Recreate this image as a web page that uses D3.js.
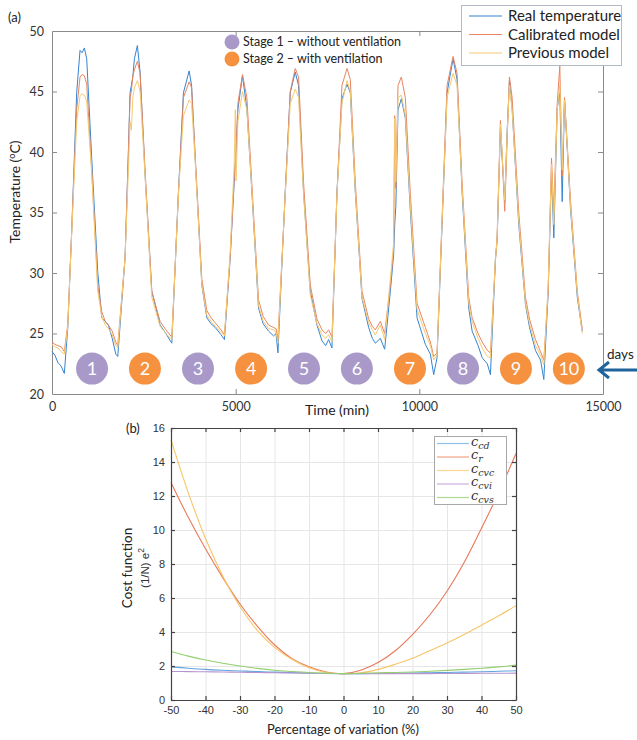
<!DOCTYPE html>
<meta charset="utf-8">
<style>
body { margin: 0; background: #fff; }
svg { display: block; }
.axis-a path, .axis-a line { stroke: #8a8a8a; }
.axis-a text { font: 12.5px Lato, sans-serif; fill: #333; }
.axis-b path, .axis-b line { stroke: #444; stroke-width: 1.2px; }
.axis-b text { font: 11px "Liberation Sans", Arial, sans-serif; fill: #333; }
.grid line { stroke: #e6e6e6; }
.grid path { display: none; }
</style>
<svg width="637" height="740"></svg>
<script src="https://d3js.org/d3.v7.min.js"></script>
<script>

// ---- panel (a) data: time (min) and temperatures (degC)
var timeMin = [0,80,160,250,336,430,536,672,763,820,881,945,1081,1245,1354,1450,1535,1640,1736,1790,
  1990,2080,2125,2160,2200,2243,2325,2398,2534,2716,2943,3100,3262,3442,3578,3733,3800,3897,4079,4215,
  4330,4442,4600,4695,4851,4960,4990,5010,5060,5186,5305,5442,5622,5750,5895,6031,6100,6150,6349,6486,
  6622,6712,6848,7031,7213,7350,7450,7530,7621,7758,7894,8031,8121,8257,8439,8620,8720,8802,8938,9056,
  9211,9300,9330,9360,9420,9510,9619,9756,9938,10164,10300,10391,10482,10619,10755,10918,11027,11164,11345,11437,
  11600,11710,11850,11936,12072,12117,12208,12325,12390,12453,12526,12707,12889,13000,13162,13300,13389,13508,13598,13661,
  13753,13824,13889,13952,14116,14300,14434];
var realTemp = [23.5,23.2,22.6,22.3,21.7,25.5,33.4,44.9,48.4,48.2,48.6,47.7,39.5,30.1,26.3,26.0,25.7,24.6,23.3,23.1,
  31.3,40.0,44.9,45.5,46.2,47.7,48.8,46.6,38.1,28.5,25.7,25.0,24.2,36.7,44.9,46.7,45.5,39.5,29.0,26.3,
  25.8,25.5,24.9,24.5,31.3,37.5,39.0,40.0,43.5,46.3,43.6,36.7,27.1,25.8,25.2,24.8,25.0,23.4,36.7,44.9,
  46.6,45.5,36.7,28.5,25.7,24.4,24.0,24.5,23.8,36.7,44.4,45.6,44.9,36.7,27.9,25.5,24.6,24.2,24.6,23.7,
  28.5,31.5,34.0,35.5,43.5,44.4,42.8,35.1,26.3,24.1,23.3,21.6,23.0,34.0,44.9,47.7,46.0,36.7,27.1,25.2,
  24.0,23.0,22.5,21.6,31.2,32.6,42.0,35.9,41.7,45.9,43.6,34.0,27.4,25.5,23.6,22.8,21.2,28.5,38.5,32.9,
  43.6,44.9,35.9,44.4,35.3,28.0,25.2];
var calibTemp = [24.3,24.1,24.0,23.9,23.5,25.8,33.5,43.5,46.2,46.4,46.3,45.6,38.5,29.0,26.8,26.0,25.7,25.2,24.3,24.0,
  31.3,40.0,44.5,45.0,46.3,46.8,47.5,46.5,38.5,28.5,26.0,25.3,24.7,36.5,44.5,45.8,45.3,39.8,29.5,26.9,
  26.3,25.9,25.3,24.9,31.3,37.8,39.2,40.2,44.0,46.4,44.5,37.3,27.8,26.4,25.7,25.5,25.4,24.5,36.5,45.0,
  46.9,46.2,37.5,29.0,26.2,25.3,25.0,25.3,24.7,36.5,45.5,46.9,46.0,37.5,28.5,26.2,25.6,25.3,26.0,25.0,
  29.0,32.0,43.0,37.0,45.5,46.2,44.5,36.5,27.5,25.5,24.3,23.1,23.4,34.5,45.5,47.9,46.5,37.5,28.0,26.3,
  25.0,24.3,23.6,23.4,31.0,33.0,42.6,35.1,41.0,46.2,44.5,35.0,28.0,26.2,24.5,23.5,22.8,28.5,39.5,35.0,
  44.0,47.1,38.0,44.5,36.0,28.5,25.4];
var prevTemp = [24.1,23.9,23.8,23.5,23.3,25.6,33.3,42.5,44.6,44.8,44.7,44.2,38.3,28.5,26.4,25.7,25.4,24.9,24.0,23.8,
  31.3,38.5,42.5,41.8,44.5,45.3,45.9,45.0,38.0,28.0,25.6,25.0,24.5,36.5,43.0,44.3,44.0,39.3,29.0,26.5,
  26.0,25.6,25.1,24.8,31.8,39.0,43.5,37.6,42.5,45.0,43.5,36.8,27.3,26.0,25.4,25.3,25.1,24.2,36.5,44.0,
  45.2,44.5,36.5,28.2,25.8,24.9,24.6,24.9,24.3,36.5,44.0,45.9,45.0,36.8,28.0,25.9,25.3,24.9,25.7,24.5,
  29.5,32.5,42.8,37.5,44.5,44.7,43.0,35.5,27.0,25.0,24.0,22.8,23.2,34.3,44.5,46.5,45.5,37.0,27.5,26.0,
  24.6,23.8,23.1,23.0,31.2,32.8,42.3,36.0,41.5,45.5,43.5,34.3,27.5,25.8,24.0,23.2,22.4,29.0,39.0,34.0,
  43.5,45.5,38.5,44.3,35.5,28.3,25.0];
var seriesNames = ["Real temperature", "Calibrated model", "Previous model"];

// day markers
var dayLabels = ["1","2","3","4","5","6","7","8","9","10"];
var dayTimes = [1090,2530,3975,5420,6860,8300,9745,11190,12630,14070];
var dayStage = [1,2,1,2,1,1,2,1,2,2];
var dayLevel = 22.1;
var stageNames = ["Stage 1 \u2013 without ventilation", "Stage 2 \u2013 with ventilation"];

// ---- panel (b) data: percentage of variation vs cost function
var pctVar = [-50,-45,-40,-35,-30,-25,-20,-15,-10,-5,0,5,10,15,20,25,30,35,40,45,50];
var costCd  = [1.95,1.87,1.8,1.75,1.71,1.67,1.64,1.61,1.58,1.56,1.55,1.55,1.56,1.57,1.58,1.6,1.62,1.64,1.66,1.69,1.72];
var costR   = [12.8,10.75,8.9,7.2,5.65,4.35,3.25,2.45,1.95,1.65,1.55,1.75,2.2,2.9,3.85,5.0,6.4,8.1,10.1,12.2,14.5];
var costCvc = [15.3,12.2,9.5,7.3,5.5,4.1,3.1,2.4,1.9,1.62,1.55,1.6,1.8,2.1,2.45,2.9,3.35,3.85,4.4,4.95,5.55];
var costCvi = [1.68,1.67,1.66,1.65,1.63,1.62,1.6,1.59,1.57,1.56,1.55,1.55,1.55,1.55,1.55,1.55,1.56,1.56,1.57,1.57,1.58];
var costCvs = [2.85,2.58,2.35,2.16,2.0,1.86,1.75,1.68,1.62,1.58,1.55,1.57,1.6,1.62,1.65,1.69,1.74,1.8,1.87,1.95,2.05];
var costSubs = ["cd", "r", "cvc", "cvi", "cvs"];

var svg = d3.select("svg");
var plain = function(d) { return String(d); };

// ================= panel (a)
var ma = {left: 52, right: 603, top: 31, bottom: 394};
var x = d3.scaleLinear().domain([0, 15000]).range([ma.left, ma.right]);
var y = d3.scaleLinear().domain([20, 50]).range([ma.bottom, ma.top]);
var colA = ["#3584d2", "#e98560", "#f6ca70"];

var ga = svg.append("g");

ga.append("g").attr("class", "axis-a")
    .attr("transform", "translate(0," + ma.bottom + ")")
    .call(d3.axisBottom(x).tickValues([0, 5000, 10000, 15000]).tickFormat(plain).tickSizeInner(-5).tickSizeOuter(0).tickPadding(8));
ga.append("g").attr("class", "axis-a")
    .attr("transform", "translate(0," + ma.top + ")")
    .call(d3.axisTop(x).tickValues([5000, 10000]).tickSizeInner(-5).tickSizeOuter(0).tickFormat(""));
ga.append("g").attr("class", "axis-a")
    .attr("transform", "translate(" + ma.left + ",0)")
    .call(d3.axisLeft(y).tickValues([20, 25, 30, 35, 40, 45, 50]).tickFormat(plain).tickSizeInner(-5).tickSizeOuter(0).tickPadding(8));
ga.append("g").attr("class", "axis-a")
    .attr("transform", "translate(" + ma.right + ",0)")
    .call(d3.axisRight(y).tickValues([25, 30, 35, 40, 45]).tickSizeInner(-5).tickSizeOuter(0).tickFormat(""));
ga.selectAll(".axis-a .tick line").filter(function(d) { return d == 20 || d == 50 || d == 0 || d == 15000; }).remove();

var lineA = d3.line()
    .x(function(d) { return x(d[0]); })
    .y(function(d) { return y(d[1]); });

[realTemp, calibTemp, prevTemp].forEach(function(vals, i) {
  ga.append("path")
      .datum(timeMin.map(function(t, k) { return [t, vals[k]]; }))
      .attr("fill", "none")
      .attr("stroke", colA[i])
      .attr("stroke-width", 1)
      .attr("stroke-linejoin", "round")
      .attr("d", lineA);
});

var stageCol = {1: "#a899c9", 2: "#f5913f"};
var days = ga.selectAll(".day").data(dayLabels).enter().append("g")
    .attr("transform", function(d, i) { return "translate(" + x(dayTimes[i]) + "," + y(dayLevel) + ")"; });
days.append("circle").attr("r", 16).attr("fill", function(d, i) { return stageCol[dayStage[i]]; });
days.append("text")
    .attr("text-anchor", "middle").attr("dy", "0.36em")
    .style("font", "18px Lato, sans-serif").attr("fill", "#fff")
    .text(function(d) { return d; });

// stage legend
stageNames.forEach(function(s, i) {
  ga.append("circle").attr("cx", 232).attr("cy", 42 + i * 17).attr("r", 7.5).attr("fill", stageCol[i + 1]);
  ga.append("text").attr("x", 243).attr("y", 42 + i * 17).attr("dy", "0.35em")
      .style("font", "12.5px Lato, sans-serif").attr("fill", "#222").text(s);
});

// series legend
ga.append("rect").attr("x", 461.5).attr("y", 5.5).attr("width", 160).attr("height", 60)
    .attr("fill", "#fff").attr("stroke", "#b4b9c6");
seriesNames.forEach(function(s, i) {
  var yy = 16 + i * 18.5;
  ga.append("line").attr("x1", 469).attr("x2", 502).attr("y1", yy).attr("y2", yy)
      .attr("stroke", colA[i]).attr("stroke-width", 1.2);
  ga.append("text").attr("x", 508).attr("y", yy).attr("dy", "0.35em")
      .style("font", "15px Lato, sans-serif").attr("fill", "#222").text(s);
});

ga.append("text").attr("x", 8).attr("y", 22).style("font", "13px Lato, sans-serif").attr("fill", "#222").text("(a)");
ga.append("text").attr("x", 337).attr("y", 415).attr("text-anchor", "middle")
    .style("font", "14px Lato, sans-serif").attr("fill", "#222").text("Time (min)");
var yl = ga.append("text").attr("transform", "translate(20,192) rotate(-90)").attr("text-anchor", "middle")
    .style("font", "14px Lato, sans-serif").attr("fill", "#222");
yl.append("tspan").text("Temperature (");
yl.append("tspan").attr("baseline-shift", "super").style("font-size", "9px").text("o");
yl.append("tspan").text("C)");

// days arrow
ga.append("text").attr("x", 607).attr("y", 359).style("font", "13.5px Lato, sans-serif").attr("fill", "#222").text("days");
ga.append("line").attr("x1", 600).attr("x2", 640).attr("y1", 370).attr("y2", 370)
    .attr("stroke", "#1f639c").attr("stroke-width", 3);
ga.append("path").attr("d", "M609,362L599,370L609,378").attr("fill", "none")
    .attr("stroke", "#1f639c").attr("stroke-width", 3);

// ================= panel (b)
var mb = {left: 171, right: 516, top: 428, bottom: 700};
var xb = d3.scaleLinear().domain([-50, 50]).range([mb.left, mb.right]);
var yb = d3.scaleLinear().domain([0, 16]).range([mb.bottom, mb.top]);
var colB = ["#5ea3dc", "#e9785a", "#f6c666", "#b893d2", "#93cf6e"];
var colLeg = ["#8cc0e8", "#f4a486", "#fbd890", "#cbb0dd", "#abd98f"];

var gb = svg.append("g");
gb.append("g").attr("class", "grid")
    .attr("transform", "translate(0," + mb.bottom + ")")
    .call(d3.axisBottom(xb).ticks(10).tickSize(-(mb.bottom - mb.top)).tickFormat(""));
gb.append("g").attr("class", "grid")
    .attr("transform", "translate(" + mb.left + ",0)")
    .call(d3.axisLeft(yb).ticks(8).tickSize(-(mb.right - mb.left)).tickFormat(""));

var lineB = d3.line().curve(d3.curveCatmullRom)
    .x(function(d) { return xb(d[0]); })
    .y(function(d) { return yb(d[1]); });
[costCd, costR, costCvc, costCvi, costCvs].forEach(function(vals, i) {
  gb.append("path")
      .datum(pctVar.map(function(p, k) { return [p, vals[k]]; }))
      .attr("fill", "none").attr("stroke", colB[i]).attr("stroke-width", 1.1)
      .attr("d", lineB);
});

gb.append("g").attr("class", "axis-b")
    .attr("transform", "translate(0," + mb.bottom + ")")
    .call(d3.axisBottom(xb).ticks(10).tickFormat(plain).tickSizeInner(-4).tickSizeOuter(0).tickPadding(6));
gb.append("g").attr("class", "axis-b")
    .attr("transform", "translate(0," + mb.top + ")")
    .call(d3.axisTop(xb).ticks(10).tickSizeInner(-4).tickSizeOuter(0).tickFormat(""));
gb.append("g").attr("class", "axis-b")
    .attr("transform", "translate(" + mb.left + ",0)")
    .call(d3.axisLeft(yb).ticks(8).tickFormat(plain).tickSizeInner(-4).tickSizeOuter(0).tickPadding(6));
gb.append("g").attr("class", "axis-b")
    .attr("transform", "translate(" + mb.right + ",0)")
    .call(d3.axisRight(yb).ticks(8).tickSizeInner(-4).tickSizeOuter(0).tickFormat(""));

// legend (b)
gb.append("rect").attr("x", 434.5).attr("y", 436.5).attr("width", 72).attr("height", 68)
    .attr("fill", "#fff").attr("stroke", "#a8a8a8");
costSubs.forEach(function(s, i) {
  var yy = 443.5 + i * 13.5;
  gb.append("line").attr("x1", 437).attr("x2", 469).attr("y1", yy).attr("y2", yy)
      .attr("stroke", colLeg[i]).attr("stroke-width", 1.2);
  var t = gb.append("text").attr("x", 471).attr("y", yy + 2)
      .style("font", "italic 13px 'DejaVu Serif', serif").attr("fill", "#333");
  t.append("tspan").text("c");
  t.append("tspan").attr("dy", 3).style("font-size", "9.5px").text(s);
});

gb.append("text").attr("x", 126).attr("y", 433).style("font", "13px Lato, sans-serif").attr("fill", "#222").text("(b)");
gb.append("text").attr("x", 343).attr("y", 734).attr("text-anchor", "middle")
    .style("font", "13px Lato, sans-serif").attr("fill", "#222").text("Percentage of variation (%)");
gb.append("text").attr("transform", "translate(132,568) rotate(-90)").attr("text-anchor", "middle")
    .style("font", "13.5px Lato, sans-serif").attr("fill", "#222").text("Cost function");
var yl2 = gb.append("text").attr("transform", "translate(149,568) rotate(-90)").attr("text-anchor", "middle")
    .style("font", "11.5px 'Liberation Sans', Arial, sans-serif").attr("fill", "#333");
yl2.append("tspan").text("(1/N) e");
yl2.append("tspan").attr("baseline-shift", "super").style("font-size", "8.5px").text("2");

</script>
